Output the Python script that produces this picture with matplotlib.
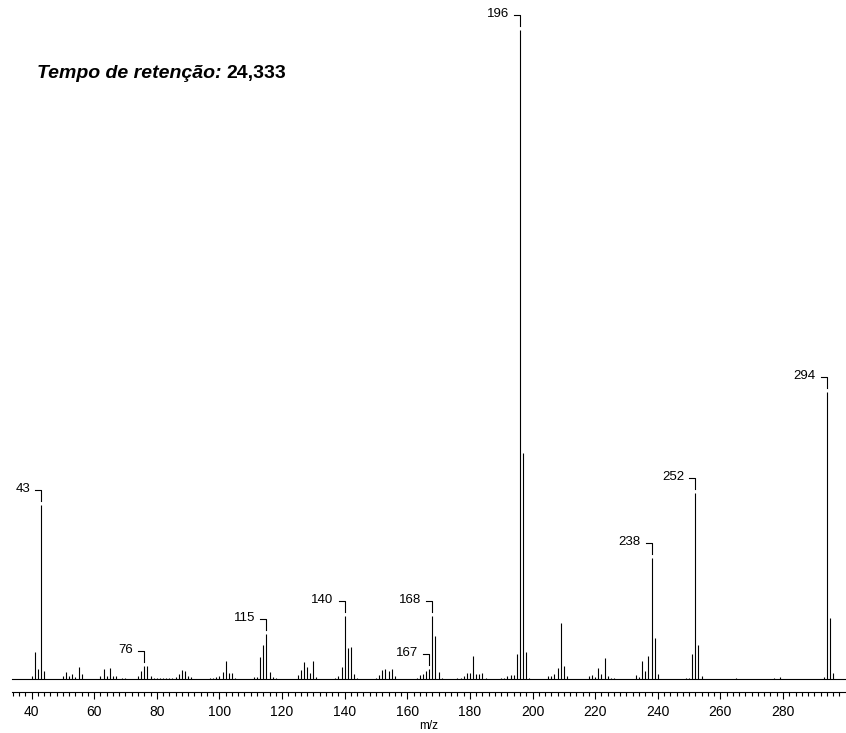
import matplotlib
matplotlib.use('Agg')
import matplotlib.pyplot as plt
from matplotlib.transforms import Affine2D, ScaledTranslation
from matplotlib.ticker import MultipleLocator

plt.rcParams['font.family'] = ['Liberation Sans', 'DejaVu Sans']

# m/z values and relative intensities (%)
mz = [40, 41, 42, 43, 44,
      50, 51, 52, 53, 54, 55, 56,
      62, 63, 64, 65, 66, 67, 69, 70,
      74, 75, 76, 77, 78, 79, 80, 81, 82, 83, 84, 85,
      86, 87, 88, 89, 90, 91,
      97, 98, 99, 100, 101, 102, 103, 104, 105,
      111, 112, 113, 114, 115, 116, 117, 118,
      125, 126, 127, 128, 129, 130, 131,
      137, 138, 139, 140, 141, 142, 143, 144,
      150, 151, 152, 153, 154, 155, 156,
      163, 164, 165, 166, 167, 168, 169, 170, 171,
      176, 177, 178, 179, 180, 181, 182, 183, 184, 185,
      190, 191, 192, 193, 194, 195, 196, 197, 198, 199,
      205, 206, 207, 208, 209, 210, 211,
      218, 219, 220, 221, 222, 223, 224, 225, 226,
      233, 234, 235, 236, 237, 238, 239, 240,
      249, 250, 251, 252, 253, 254,
      265, 277, 279,
      293, 294, 295, 296]
intensity = [0.4, 4.1, 1.6, 26.8, 1.3,
             0.5, 1.1, 0.5, 0.8, 0.3, 1.8, 0.7,
             0.5, 1.6, 0.5, 1.7, 0.5, 0.5, 0.2, 0.2,
             0.4, 1.2, 2.0, 2.0, 0.5, 0.2, 0.1, 0.2, 0.1, 0.2, 0.2, 0.1,
             0.3, 0.7, 1.4, 1.3, 0.5, 0.3,
             0.2, 0.2, 0.3, 0.5, 1.1, 2.8, 0.9, 0.9, 0.2,
             0.3, 0.3, 3.4, 5.2, 6.9, 1.1, 0.3, 0.2,
             0.6, 1.4, 2.6, 1.8, 0.9, 2.8, 0.3,
             0.2, 0.4, 1.8, 9.7, 4.8, 4.9, 0.8, 0.1,
             0.2, 0.6, 1.4, 1.6, 1.2, 1.5, 0.4,
             0.2, 0.6, 0.8, 1.2, 1.6, 9.7, 6.6, 1.1, 0.2,
             0.1, 0.2, 0.4, 0.9, 0.9, 3.5, 0.7, 0.7, 0.9, 0.2,
             0.2, 0.2, 0.4, 0.6, 0.6, 3.9, 100.0, 34.8, 4.1, 0.2,
             0.5, 0.5, 0.7, 1.7, 8.6, 2.0, 0.4,
             0.4, 0.6, 0.3, 1.7, 0.8, 3.2, 0.4, 0.2, 0.1,
             0.6, 0.3, 2.8, 1.2, 3.6, 18.6, 6.3, 0.7,
             0.1, 0.1, 3.9, 28.6, 5.2, 0.4,
             0.2, 0.1, 0.3,
             0.3, 44.2, 9.4, 0.9]
labelled = [43, 76, 115, 140, 167, 168, 196, 238, 252, 294]

fig = plt.figure(figsize=(8.46, 7.33), dpi=100)
ax = fig.add_axes([12/846, 1 - 679/733, 833/846, 649/733])

ax.vlines(mz, 0, intensity, colors='k', lw=0.8, clip_on=False)
ax.axhline(0, color='k', lw=0.8, clip_on=False)

ax.set_xlim(33.75, 299.8)
ax.set_ylim(0, 100)

# peak labels with the little bracket above each peak
for m in labelled:
    h = intensity[mz.index(m)]
    tr = Affine2D() + ScaledTranslation(m, h, ax.transData)
    ax.plot([-6, 0, 0], [15, 15, 4], color='k', lw=0.8, transform=tr,
            clip_on=False)
    ax.annotate(str(m), xy=(m, h), xytext=(-11 * 0.72, 16 * 0.72),
                textcoords='offset points', ha='right', va='center',
                fontsize=9.5)

for s in ['top', 'right', 'left']:
    ax.spines[s].set_visible(False)
ax.spines['bottom'].set_position(('outward', 9.4))
ax.spines['bottom'].set_linewidth(0.8)
ax.set_yticks([])
ax.xaxis.set_major_locator(MultipleLocator(20))
ax.xaxis.set_minor_locator(MultipleLocator(2))
ax.tick_params(axis='x', which='major', direction='out', length=5,
               width=0.8, labelsize=10, pad=4)
ax.tick_params(axis='x', which='minor', direction='out', length=3,
               width=0.8)
ax.set_xticks([40, 60, 80, 100, 120, 140, 160, 180, 200, 220, 240, 260, 280])
ax.set_xlabel('m/z', fontsize=8.5, labelpad=1)

t1 = fig.text(37/846, 1 - 78/733, 'Tempo de retenção:', fontsize=14,
              fontweight='bold', style='italic', va='baseline')
fig.canvas.draw()
bb = t1.get_window_extent()
fig.text((bb.x1 + 5) / 846, 1 - 78/733, '24,333', fontsize=14,
         fontweight='bold', va='baseline')

fig.savefig('out.png', dpi=100)
